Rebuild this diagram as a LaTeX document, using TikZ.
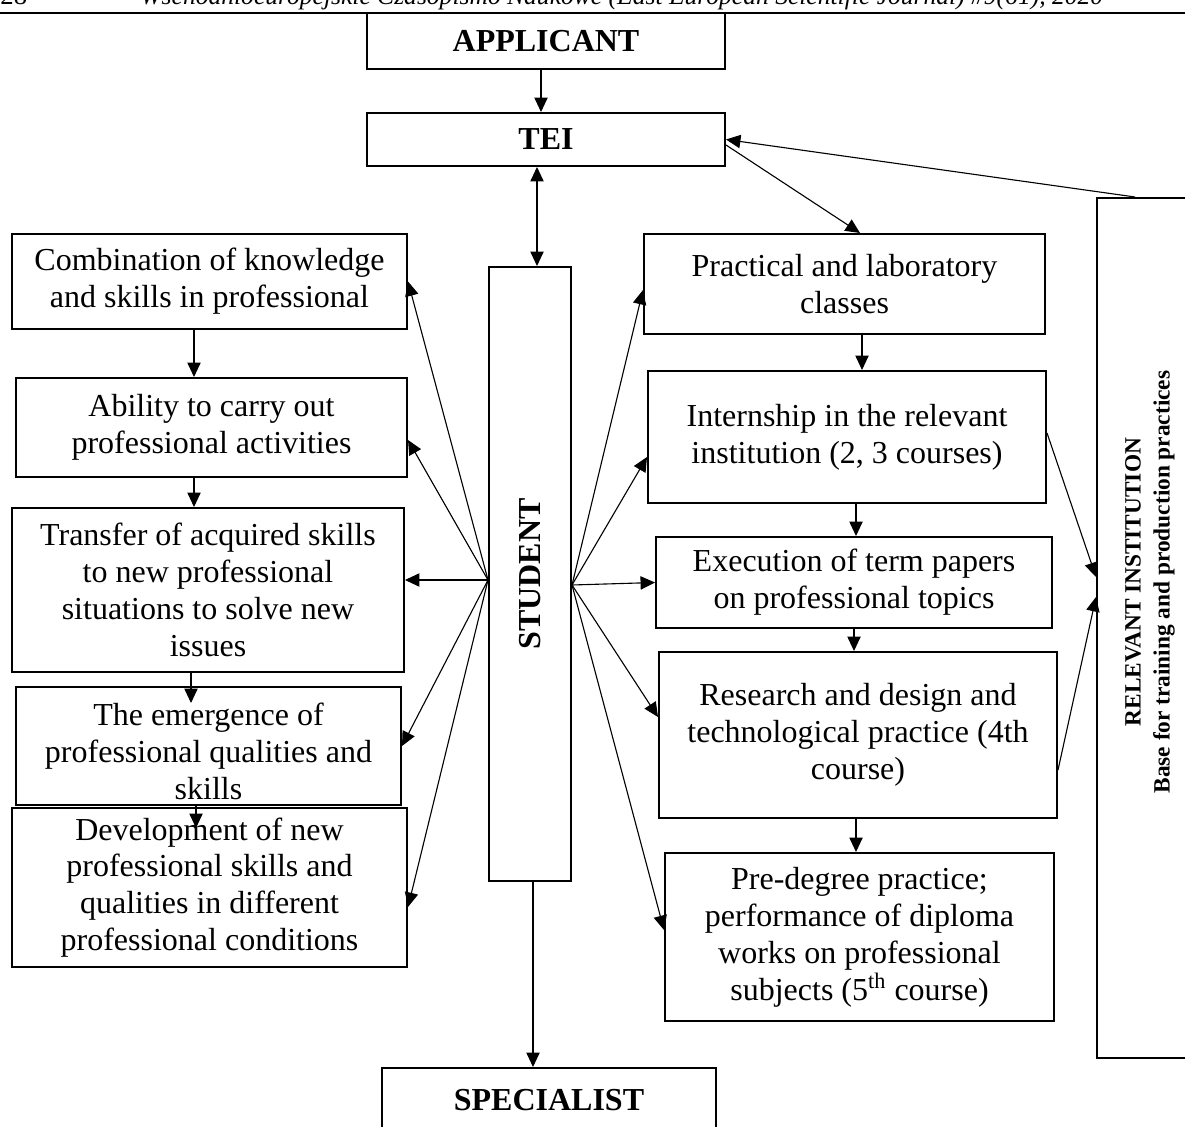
\documentclass[tikz,border=0pt]{standalone}
\usepackage{fontspec}
\setmainfont{Liberation Serif}
\usepackage{graphicx}
\usetikzlibrary{arrows.meta,calc}

\begin{document}
\begin{tikzpicture}[x=0.45pt, y=-0.45pt,
    box/.style={draw, line width=0.9pt, align=center, inner sep=0pt, font=\fontsize{14.4}{16.6}\selectfont},
    title/.style={box, font=\fontsize{14.4}{16.6}\selectfont\bfseries},
    arr/.style={line width=0.5pt, -{Triangle[length=6.5pt,width=6pt]}},
    darr/.style={line width=0.5pt, {Triangle[length=6.5pt,width=6pt]}-{Triangle[length=6.5pt,width=6pt]}}]

    \useasboundingbox (0,0) rectangle (1185,1126);
    \clip (0,0) rectangle (1185,1126);

    % Page header (cut at the top)
    \node[anchor=base west, inner sep=0pt, font=\fontsize{12}{14}\selectfont] (pnum) at (0,5) {28};
    \node[anchor=base west, inner sep=0pt, font=\fontsize{11.5}{14}\selectfont\itshape] (hdr) at (140,5) {Wschodnioeuropejskie Czasopismo Naukowe (East European Scientific Journal) \#9(61), 2020};
    \draw[line width=1.2pt] (0,13) -- (1185,13);

    % Middle chain
    \node[title, minimum width=161.1pt, minimum height=25.2pt] (app) at (546,41) {APPLICANT};
    \node[title, minimum width=161.1pt, minimum height=23.85pt] (tei) at (546,139.5) {TEI};
    \node[title, minimum width=36.9pt, minimum height=276.3pt] (stu) at (530,574) {\rotatebox{90}{STUDENT}};
    \node[title, minimum width=150.3pt, minimum height=28.8pt] (spec) at (549,1100) {SPECIALIST};

    % Left column
    \node[box, minimum width=177.75pt, minimum height=42.75pt] (L1) at (209.5,281.5) {Combination of knowledge\\and skills in professional};
    \node[box, minimum width=175.95pt, minimum height=44.55pt] (L2) at (211.5,427.5) {Ability to carry out\\professional activities};
    \node[box, minimum width=176.4pt, minimum height=73.8pt] (L3) at (208,590) {Transfer of acquired skills\\to new professional\\situations to solve new\\issues};
    \node[box, minimum width=173.25pt, minimum height=53.1pt] (L4) at (208.5,746) {};
    \node[align=center, inner sep=0pt, font=\fontsize{14.4}{16.6}\selectfont] (L4t) at (208.5,751) {The emergence of\\professional qualities and\\skills};
    \node[box, minimum width=177.75pt, minimum height=71.55pt] (L5) at (209.5,887.5) {Development of new\\professional skills and\\qualities in different\\professional conditions};

    % Right column
    \node[box, minimum width=180.45pt, minimum height=45pt] (R1) at (844.5,284) {Practical and laboratory\\classes};
    \node[box, minimum width=179.1pt, minimum height=59.4pt] (R2) at (847,437) {Internship in the relevant\\institution (2, 3 courses)};
    \node[box, minimum width=178.2pt, minimum height=40.95pt] (R3) at (854,582.5) {Execution of term papers\\on professional topics};
    \node[box, minimum width=179.1pt, minimum height=74.7pt] (R4) at (858,735) {Research and design and\\technological practice (4th\\course)};
    \node[box, minimum width=175.05pt, minimum height=75.6pt] (R5) at (859.5,937) {Pre-degree practice;\\performance of diploma\\works on professional\\subjects (5\textsuperscript{th} course)};

    % Relevant institution
    \node[box, minimum width=46.35pt, minimum height=387pt] (rel) at (1148.5,628) {};
    \node[rotate=90, align=center, inner sep=0pt, font=\fontsize{10.5}{13}\selectfont\bfseries] (relt) at (1150,582) {RELEVANT INSTITUTION\\Base for training and production practices};

    \coordinate (sl) at (stu.west |- 0,580);
    \coordinate (sr) at (stu.east |- 0,585);
    \coordinate (t4) at (191,703);
    \coordinate (t5) at (196,828);

    \draw[arr] (app.south -| 541,0) -- (tei.north -| 541,0);
    \draw[darr] (tei.south -| 537,0) -- (stu.north -| 537,0);
    \draw[arr] (stu.south -| 533,0) -- (spec.north -| 533,0);
    \draw[arr] (tei.east |- 0,145) -- (R1.north -| 860,0);
    \draw[arr] (rel.north -| 1135,0) -- (tei.east);

    \draw[arr] (L1.south -| 194,0) -- (L2.north -| 194,0);
    \draw[arr] (L2.south -| 194,0) -- (L3.north -| 194,0);
    \draw[arr] (L3.south -| t4) -- (t4);
    \draw[arr] (L4.south -| t5) -- (t5);

    \draw[arr] (R1.south -| 862,0) -- (R2.north -| 862,0);
    \draw[arr] (R2.south -| 856,0) -- (R3.north -| 856,0);
    \draw[arr] (R3.south -| 854,0) -- (R4.north -| 854,0);
    \draw[arr] (R4.south -| 856,0) -- (R5.north -| 856,0);

    \draw[arr] (sl) -- (L1.east);
    \draw[arr] (sl) -- (L2.east |- 0,440);
    \draw[arr] (sl) -- (L3.east |- 0,580);
    \draw[arr] (sl) -- (L4.east);
    \draw[arr] (sl) -- (L5.east |- 0,907);
    \draw[arr] (sr) -- (R1.west |- 0,290);
    \draw[arr] (sr) -- (R2.west |- 0,457);
    \draw[arr] (sr) -- (R3.west);
    \draw[arr] (sr) -- (R4.west |- 0,717);
    \draw[arr] (sr) -- (R5.west |- 0,930);

    \draw[arr] (R2.east |- 0,433) -- (rel.west |- 0,577);
    \draw[arr] (R4.east |- 0,770) -- (rel.west |- 0,597);
\end{tikzpicture}
\end{document}
